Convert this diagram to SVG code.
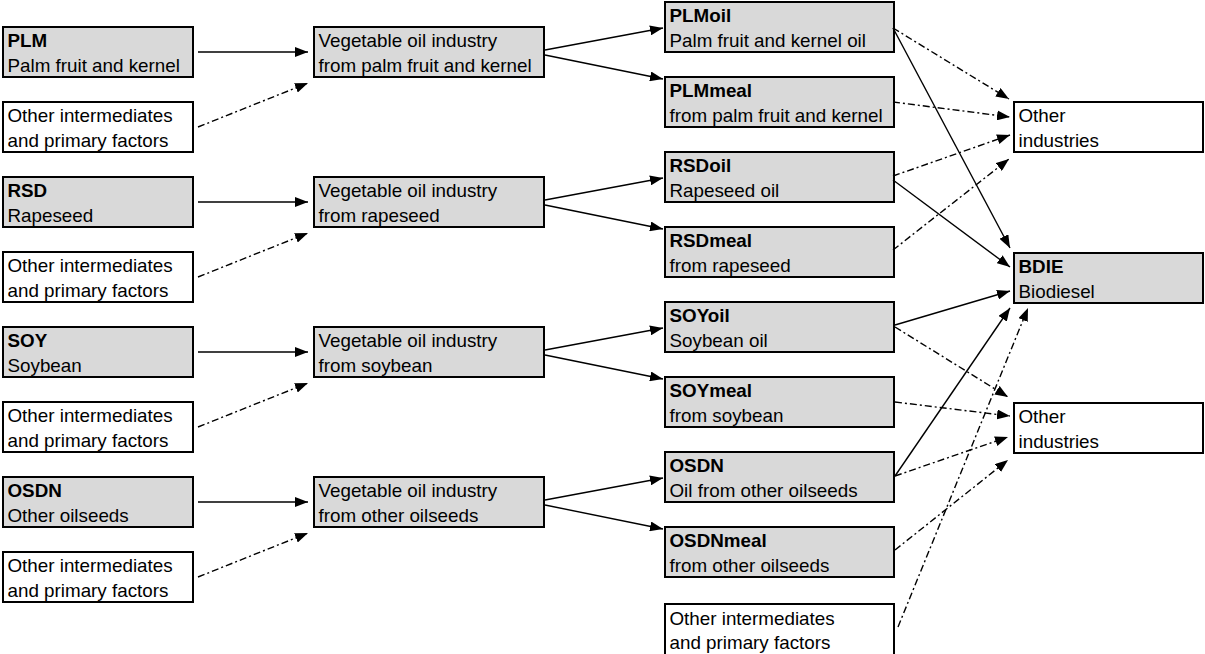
<svg xmlns="http://www.w3.org/2000/svg" width="1205" height="654" viewBox="0 0 1205 654">
<style>
.g{fill:#d9d9d9;stroke:#000;stroke-width:2}
.w{fill:#fff;stroke:#000;stroke-width:2}
.t{font-family:"Liberation Sans",Arial,sans-serif;font-size:17.5px;fill:#000}
.b{font-weight:bold}
.s{fill:none;stroke:#000;stroke-width:1.4;marker-end:url(#ah)}
.d{fill:none;stroke:#000;stroke-width:1.4;stroke-dasharray:7 3 2 3;marker-end:url(#ah)}
</style>
<defs>
<marker id="ah" markerWidth="13" markerHeight="10" refX="13" refY="5" orient="auto" markerUnits="userSpaceOnUse"><path d="M0,0 L13,5 L0,10 z" fill="#000"/></marker>
</defs>
<rect width="1205" height="654" fill="#fff"/>

<g id="PLM"><rect class="g" x="3" y="27" width="190" height="50"/><text class="t" transform="translate(7.5,47) scale(1.075,1)"><tspan class="b" x="0">PLM</tspan><tspan x="0" dy="25">Palm fruit and kernel</tspan></text></g>
<g id="OI1"><rect class="w" x="3" y="102" width="190" height="50"/><text class="t" transform="translate(7.5,122) scale(1.075,1)"><tspan x="0">Other intermediates</tspan><tspan x="0" dy="25">and primary factors</tspan></text></g>
<g id="RSD"><rect class="g" x="3" y="177" width="190" height="50"/><text class="t" transform="translate(7.5,197) scale(1.075,1)"><tspan class="b" x="0">RSD</tspan><tspan x="0" dy="25">Rapeseed</tspan></text></g>
<g id="OI2"><rect class="w" x="3" y="252" width="190" height="50"/><text class="t" transform="translate(7.5,272) scale(1.075,1)"><tspan x="0">Other intermediates</tspan><tspan x="0" dy="25">and primary factors</tspan></text></g>
<g id="SOY"><rect class="g" x="3" y="327" width="190" height="50"/><text class="t" transform="translate(7.5,347) scale(1.075,1)"><tspan class="b" x="0">SOY</tspan><tspan x="0" dy="25">Soybean</tspan></text></g>
<g id="OI3"><rect class="w" x="3" y="402" width="190" height="50"/><text class="t" transform="translate(7.5,422) scale(1.075,1)"><tspan x="0">Other intermediates</tspan><tspan x="0" dy="25">and primary factors</tspan></text></g>
<g id="OSDNseed"><rect class="g" x="3" y="477" width="190" height="50"/><text class="t" transform="translate(7.5,497) scale(1.075,1)"><tspan class="b" x="0">OSDN</tspan><tspan x="0" dy="25">Other oilseeds</tspan></text></g>
<g id="OI4"><rect class="w" x="3" y="552" width="190" height="50"/><text class="t" transform="translate(7.5,572) scale(1.075,1)"><tspan x="0">Other intermediates</tspan><tspan x="0" dy="25">and primary factors</tspan></text></g>

<g id="VOPLM"><rect class="g" x="314" y="27" width="230" height="50"/><text class="t" transform="translate(318.5,47) scale(1.075,1)"><tspan x="0">Vegetable oil industry</tspan><tspan x="0" dy="25">from palm fruit and kernel</tspan></text></g>
<g id="VORSD"><rect class="g" x="314" y="177" width="230" height="50"/><text class="t" transform="translate(318.5,197) scale(1.075,1)"><tspan x="0">Vegetable oil industry</tspan><tspan x="0" dy="25">from rapeseed</tspan></text></g>
<g id="VOSOY"><rect class="g" x="314" y="327" width="230" height="50"/><text class="t" transform="translate(318.5,347) scale(1.075,1)"><tspan x="0">Vegetable oil industry</tspan><tspan x="0" dy="25">from soybean</tspan></text></g>
<g id="VOOSDN"><rect class="g" x="314" y="477" width="230" height="50"/><text class="t" transform="translate(318.5,497) scale(1.075,1)"><tspan x="0">Vegetable oil industry</tspan><tspan x="0" dy="25">from other oilseeds</tspan></text></g>

<g id="PLMoil"><rect class="g" x="665" y="2" width="229" height="50"/><text class="t" transform="translate(669.5,22) scale(1.075,1)"><tspan class="b" x="0">PLMoil</tspan><tspan x="0" dy="25">Palm fruit and kernel oil</tspan></text></g>
<g id="PLMmeal"><rect class="g" x="665" y="77" width="229" height="50"/><text class="t" transform="translate(669.5,97) scale(1.075,1)"><tspan class="b" x="0">PLMmeal</tspan><tspan x="0" dy="25">from palm fruit and kernel</tspan></text></g>
<g id="RSDoil"><rect class="g" x="665" y="152" width="229" height="50"/><text class="t" transform="translate(669.5,172) scale(1.075,1)"><tspan class="b" x="0">RSDoil</tspan><tspan x="0" dy="25">Rapeseed oil</tspan></text></g>
<g id="RSDmeal"><rect class="g" x="665" y="227" width="229" height="50"/><text class="t" transform="translate(669.5,247) scale(1.075,1)"><tspan class="b" x="0">RSDmeal</tspan><tspan x="0" dy="25">from rapeseed</tspan></text></g>
<g id="SOYoil"><rect class="g" x="665" y="302" width="229" height="50"/><text class="t" transform="translate(669.5,322) scale(1.075,1)"><tspan class="b" x="0">SOYoil</tspan><tspan x="0" dy="25">Soybean oil</tspan></text></g>
<g id="SOYmeal"><rect class="g" x="665" y="377" width="229" height="50"/><text class="t" transform="translate(669.5,397) scale(1.075,1)"><tspan class="b" x="0">SOYmeal</tspan><tspan x="0" dy="25">from soybean</tspan></text></g>
<g id="OSDNoil"><rect class="g" x="665" y="452" width="229" height="50"/><text class="t" transform="translate(669.5,472) scale(1.075,1)"><tspan class="b" x="0">OSDN</tspan><tspan x="0" dy="25">Oil from other oilseeds</tspan></text></g>
<g id="OSDNmeal"><rect class="g" x="665" y="527" width="229" height="50"/><text class="t" transform="translate(669.5,547) scale(1.075,1)"><tspan class="b" x="0">OSDNmeal</tspan><tspan x="0" dy="25">from other oilseeds</tspan></text></g>
<g id="OI5"><rect class="w" x="665" y="604" width="229" height="56"/><text class="t" transform="translate(669.5,625) scale(1.075,1)"><tspan x="0">Other intermediates</tspan><tspan x="0" dy="24">and primary factors</tspan></text></g>

<g id="OtherInd1"><rect class="w" x="1014" y="102" width="189" height="50"/><text class="t" transform="translate(1018.5,122) scale(1.075,1)"><tspan x="0">Other</tspan><tspan x="0" dy="25">industries</tspan></text></g>
<g id="BDIE"><rect class="g" x="1014" y="253" width="189" height="50"/><text class="t" transform="translate(1018.5,273) scale(1.075,1)"><tspan class="b" x="0">BDIE</tspan><tspan x="0" dy="25">Biodiesel</tspan></text></g>
<g id="OtherInd2"><rect class="w" x="1014" y="403" width="189" height="50"/><text class="t" transform="translate(1018.5,423) scale(1.075,1)"><tspan x="0">Other</tspan><tspan x="0" dy="25">industries</tspan></text></g>

<g id="connectors">
<line class="s" x1="198" y1="52" x2="308" y2="52"/>
<line class="d" x1="198" y1="127" x2="308" y2="83"/>
<line class="s" x1="198" y1="202" x2="308" y2="202"/>
<line class="d" x1="198" y1="277" x2="308" y2="233"/>
<line class="s" x1="198" y1="352" x2="308" y2="352"/>
<line class="d" x1="198" y1="427" x2="308" y2="383"/>
<line class="s" x1="198" y1="502" x2="308" y2="502"/>
<line class="d" x1="198" y1="577" x2="308" y2="533"/>

<line class="s" x1="545" y1="50" x2="663" y2="28"/>
<line class="s" x1="545" y1="55" x2="663" y2="79"/>
<line class="s" x1="545" y1="200" x2="663" y2="178"/>
<line class="s" x1="545" y1="205" x2="663" y2="229"/>
<line class="s" x1="545" y1="350" x2="663" y2="328"/>
<line class="s" x1="545" y1="355" x2="663" y2="379"/>
<line class="s" x1="545" y1="500" x2="663" y2="478"/>
<line class="s" x1="545" y1="505" x2="663" y2="529"/>

<line class="d" x1="893" y1="28" x2="1009" y2="99"/>
<line class="s" x1="893" y1="28" x2="1010" y2="248"/>
<line class="d" x1="893" y1="102" x2="1010" y2="117"/>
<line class="d" x1="893" y1="176" x2="1010" y2="135"/>
<line class="s" x1="893" y1="180" x2="1010" y2="267"/>
<line class="d" x1="893" y1="250" x2="1009" y2="159"/>
<line class="s" x1="895" y1="325" x2="1010" y2="291"/>
<line class="s" x1="895" y1="476" x2="1010" y2="308"/>
<line class="d" x1="898" y1="627" x2="1028" y2="308"/>
<line class="d" x1="895" y1="327" x2="1008" y2="397"/>
<line class="d" x1="895" y1="402" x2="1010" y2="416"/>
<line class="d" x1="895" y1="476" x2="1008" y2="437"/>
<line class="d" x1="895" y1="550" x2="1008" y2="460"/>
</g>
</svg>
